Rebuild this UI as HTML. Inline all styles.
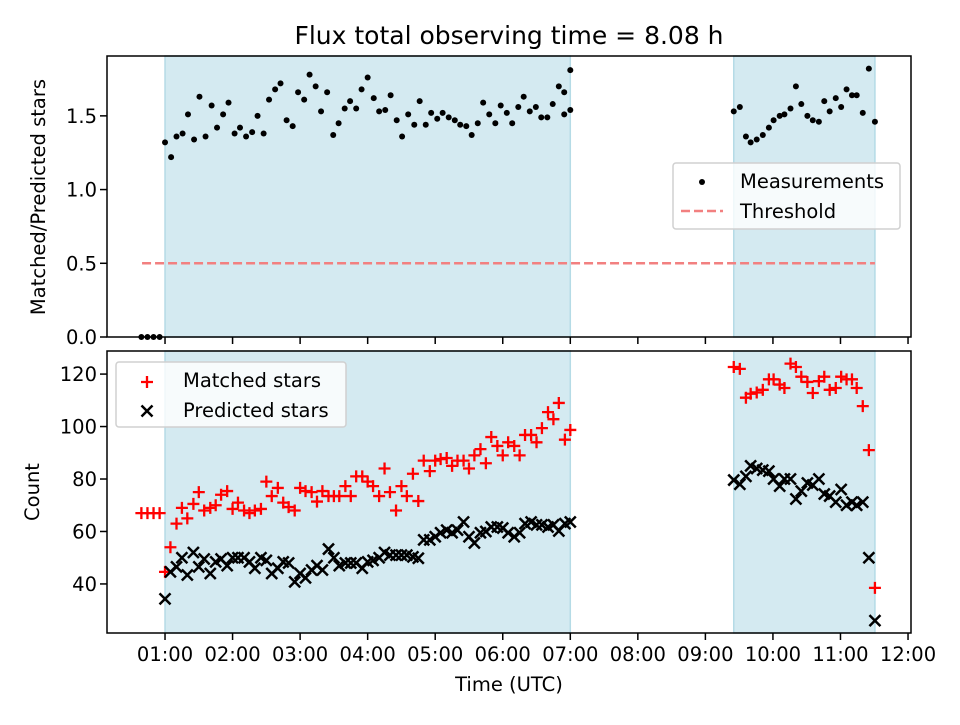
<!DOCTYPE html>
<html><head><meta charset="utf-8">
<style>
body{margin:0;background:#fff;}
svg text{font-family:"DejaVu Sans","Liberation Sans",sans-serif;fill:#000;}
</style></head>
<body>
<svg id="chart" width="960" height="720" viewBox="0 0 960 720" xmlns="http://www.w3.org/2000/svg">
<text x="509" y="44" font-size="25" text-anchor="middle">Flux total observing time = 8.08 h</text>
</svg>
<script>
// ---- data ----
const shadeSpans = [[1.0, 7.0], [9.42, 11.51]];
const threshold = 0.5;
const thresholdRange = [0.66, 11.51];
const preTimes = [0.65, 0.74, 0.83, 0.92];
const preRatio = [0, 0, 0, 0];
const preMatched = [67, 67, 67, 67];
const ratioTimes1 = [1.00,1.09,1.17,1.26,1.34,1.43,1.51,1.60,1.69,1.77,1.86,1.94,2.03,2.11,2.20,2.29,2.37,2.46,2.54,2.63,2.71,2.80,2.89,2.97,3.06,3.14,3.23,3.31,3.40,3.49,3.57,3.66,3.74,3.83,3.91,4.00,4.09,4.17,4.26,4.34,4.43,4.51,4.60,4.69,4.77,4.86,4.94,5.03,5.11,5.20,5.29,5.37,5.46,5.54,5.63,5.71,5.80,5.89,5.97,6.06,6.14,6.23,6.31,6.40,6.49,6.57,6.66,6.74,6.83,6.91,7.00];
const ratio1 = [1.32,1.22,1.36,1.38,1.51,1.34,1.63,1.36,1.57,1.42,1.51,1.59,1.38,1.42,1.36,1.39,1.50,1.38,1.61,1.68,1.72,1.47,1.43,1.66,1.61,1.78,1.70,1.53,1.66,1.37,1.45,1.55,1.60,1.55,1.68,1.76,1.62,1.53,1.54,1.64,1.47,1.36,1.51,1.44,1.60,1.44,1.52,1.48,1.52,1.49,1.47,1.44,1.43,1.37,1.45,1.59,1.51,1.45,1.57,1.52,1.45,1.56,1.63,1.53,1.56,1.49,1.49,1.58,1.70,1.66,1.81];
const ratioTail1 = [[6.91,1.51],[7.00,1.54]];
const times2 = [9.42,9.51,9.60,9.67,9.76,9.85,9.94,10.01,10.10,10.17,10.26,10.34,10.42,10.51,10.59,10.68,10.76,10.84,10.93,11.01,11.09,11.17,11.24,11.33,11.42,11.51];
const ratio2 = [1.53,1.56,1.36,1.32,1.34,1.37,1.42,1.47,1.50,1.51,1.55,1.70,1.58,1.50,1.47,1.46,1.60,1.53,1.62,1.56,1.68,1.64,1.64,1.52,1.82,1.46];
const countTimes1 = [1.00,1.08,1.17,1.25,1.33,1.42,1.50,1.58,1.67,1.75,1.83,1.92,2.00,2.08,2.17,2.25,2.33,2.42,2.50,2.58,2.67,2.75,2.83,2.92,3.00,3.08,3.17,3.25,3.33,3.42,3.50,3.58,3.67,3.75,3.83,3.92,4.00,4.08,4.17,4.25,4.33,4.42,4.50,4.58,4.67,4.75,4.83,4.92,5.00,5.08,5.17,5.25,5.33,5.42,5.50,5.58,5.67,5.75,5.83,5.92,6.00,6.08,6.17,6.25,6.33,6.42,6.50,6.58,6.67,6.75,6.83,6.92,7.00];
const matched1 = [44.6,54,63,69,65,70.5,75,68,69,70,74,75.4,68.6,71,68,67,68,68.6,79,73.5,76.6,71,69.3,68,76.6,75.4,75,71.4,75.4,73.5,73.5,73.5,77.3,73.5,81,81,79,77.3,73.5,84,75,68,77.3,73.5,82,71.6,87,83,87,87.6,88,85,87,87,84,89,91.4,86,96,92.6,89,94,92.6,89,96.8,96.8,94,99.4,105.5,102.8,109,95,98.7];
const predicted1 = [34.3,44.6,46.5,50,43.4,52,46.5,49.5,44,48.4,49.5,47,50,50,50,48.4,46,50,49,44,46,48.4,48,40.8,44,42.3,45.3,47,45.3,53.3,50,47,48,48,48,46,48.4,49,50,52,51,51,51,51,50.3,49.8,56.8,56.8,58,59.5,60.5,59.5,60.5,63.6,58,55.6,59.5,60,61.7,61.7,61.3,59.5,58,59.5,63,63.6,62.5,62.5,61.7,62.5,60.2,63,63.6];
const matched2 = [122.7,122,111,112.5,113,114,118,118,116,114.7,124,122.7,119,117,112.8,117.3,119,114,114.7,119,118,118,114.7,107.8,91,38.5];
const predicted2 = [79.6,78,81,85,84,83.4,83,80,77.3,80,80,72.4,75.4,78.5,77.7,80,74.3,73.5,71.2,76,70,71.2,70,71.2,50,26];
const xTickLabels = ["01:00","02:00","03:00","04:00","05:00","06:00","07:00","08:00","09:00","10:00","11:00","12:00"];
const xTickHours = [1,2,3,4,5,6,7,8,9,10,11,12];
const topYTicks = [0.0, 0.5, 1.0, 1.5];
const botYTicks = [40, 60, 80, 100, 120];

// ---- axes ----
const NS = "http://www.w3.org/2000/svg";
const svg = document.getElementById('chart');
const FS = 19.5;
const L = 107, R = 911;
const xMin = 0.141, xMax = 12.044;
const X = t => L + (t - xMin) / (xMax - xMin) * (R - L);
const topT = 56, topB = 337, topMin = 0, topMax = 1.906;
const YT = v => topB - (v - topMin) / (topMax - topMin) * (topB - topT);
const botT = 351, botB = 633, botMin = 21.3, botMax = 128.8;
const YB = v => botB - (v - botMin) / (botMax - botMin) * (botB - botT);

function el(tag, attrs, parent) {
  const e = document.createElementNS(NS, tag);
  for (const k in attrs) e.setAttribute(k, attrs[k]);
  (parent || svg).appendChild(e);
  return e;
}

function panel(name, top, bottom) {
  const g = el('g', {});
  
  
  shadeSpans.forEach((s, i) => {
    const r = el('rect', {x: X(s[0]), y: top, width: X(s[1]) - X(s[0]), height: bottom - top, fill: '#d4eaf1', stroke: '#b5dbe6', 'stroke-width': 1.5}, g);
    
    
  });
  return g;
}

function frame(name, top, bottom) {
  const f = el('rect', {x: L, y: top, width: R - L, height: bottom - top, fill: 'none', stroke: '#000', 'stroke-width': 1.5});
  
  
  xTickHours.forEach((h) => {
    el('line', {x1: X(h), x2: X(h), y1: bottom, y2: bottom + 7, stroke: '#000', 'stroke-width': 1.5});
  });
}

// ---- top panel ----
const gTop = panel('ratio-panel', topT, topB);
const th = el('line', {x1: X(thresholdRange[0]), x2: X(thresholdRange[1]), y1: YT(threshold), y2: YT(threshold), stroke: '#f28080', 'stroke-width': 2.5, 'stroke-dasharray': '9,4'});


function dot(t, v) {
  const c = el('circle', {cx: X(t), cy: YT(v), r: 3, fill: '#000'});
  
  
}
preTimes.forEach((t, i) => dot(t, preRatio[i]));
ratioTimes1.forEach((t, i) => dot(t, ratio1[i]));
ratioTail1.forEach(p => dot(p[0], p[1]));
times2.forEach((t, i) => dot(t, ratio2[i]));
frame('ratio-axes-frame', topT, topB);
topYTicks.forEach(v => {
  el('line', {x1: L - 7, x2: L, y1: YT(v), y2: YT(v), stroke: '#000', 'stroke-width': 1.5});
  const tx = el('text', {x: L - 10, y: YT(v) + 7, 'font-size': FS, 'text-anchor': 'end'});
  tx.textContent = v.toFixed(1);
  
  
});
const yt1 = el('text', {x: 0, y: 0, 'font-size': FS, 'text-anchor': 'middle', transform: 'translate(45,197) rotate(-90)'});
yt1.textContent = 'Matched/Predicted stars';



// ---- bottom panel ----
const gBot = panel('count-panel', botT, botB);
function plus(t, v) {
  const x = X(t), y = YB(v), s = 6;
  const p = el('path', {d: `M${x - s},${y}H${x + s}M${x},${y - s}V${y + s}`, stroke: '#ff0000', 'stroke-width': 2.3, fill: 'none'});
  
  
}
function cross(t, v) {
  const x = X(t), y = YB(v), s = 5.5;
  const p = el('path', {d: `M${x - s},${y - s}L${x + s},${y + s}M${x - s},${y + s}L${x + s},${y - s}`, stroke: '#000', 'stroke-width': 2.5, fill: 'none'});
  
  
}
preTimes.forEach((t, i) => plus(t, preMatched[i]));
countTimes1.forEach((t, i) => { if (matched1[i] !== undefined) plus(t, matched1[i]); });
times2.forEach((t, i) => plus(t, matched2[i]));
countTimes1.forEach((t, i) => { if (predicted1[i] !== undefined) cross(t, predicted1[i]); });
times2.forEach((t, i) => cross(t, predicted2[i]));
frame('count-axes-frame', botT, botB);
botYTicks.forEach(v => {
  el('line', {x1: L - 7, x2: L, y1: YB(v), y2: YB(v), stroke: '#000', 'stroke-width': 1.5});
  const tx = el('text', {x: L - 10, y: YB(v) + 7, 'font-size': FS, 'text-anchor': 'end'});
  tx.textContent = v;
  
  
});
xTickHours.forEach((h, i) => {
  const tx = el('text', {x: X(h), y: botB + 28, 'font-size': FS, 'text-anchor': 'middle'});
  tx.textContent = xTickLabels[i];
  
  
});
const yt2 = el('text', {x: 0, y: 0, 'font-size': FS, 'text-anchor': 'middle', transform: 'translate(39,492) rotate(-90)'});
yt2.textContent = 'Count';


const xt = el('text', {x: 509, y: 691, 'font-size': FS, 'text-anchor': 'middle'});
xt.textContent = 'Time (UTC)';



// ---- legends ----
const lg1 = el('g', {});


el('rect', {x: 673, y: 163, width: 227, height: 66, rx: 3, fill: 'rgba(255,255,255,0.8)', stroke: '#d0d0d0', 'stroke-width': 1.5}, lg1);
el('circle', {cx: 702, cy: 182, r: 3, fill: '#000'}, lg1);
const l1a = el('text', {x: 740, y: 188, 'font-size': FS}, lg1); l1a.textContent = 'Measurements';


el('line', {x1: 681, x2: 723, y1: 211, y2: 211, stroke: '#f28080', 'stroke-width': 2.5, 'stroke-dasharray': '9,4'}, lg1);
const l1b = el('text', {x: 740, y: 218, 'font-size': FS}, lg1); l1b.textContent = 'Threshold';



const lg2 = el('g', {});


el('rect', {x: 116, y: 362, width: 230, height: 65, rx: 3, fill: 'rgba(255,255,255,0.8)', stroke: '#d0d0d0', 'stroke-width': 1.5}, lg2);
el('path', {d: 'M141,382H153M147,376V388', stroke: '#ff0000', 'stroke-width': 2.3}, lg2);
const l2a = el('text', {x: 183, y: 387, 'font-size': FS}, lg2); l2a.textContent = 'Matched stars';


el('path', {d: 'M141.5,405.5L152.5,416.5M141.5,416.5L152.5,405.5', stroke: '#000', 'stroke-width': 2.5}, lg2);
const l2b = el('text', {x: 183, y: 417, 'font-size': FS}, lg2); l2b.textContent = 'Predicted stars';


</script>
</body></html>
